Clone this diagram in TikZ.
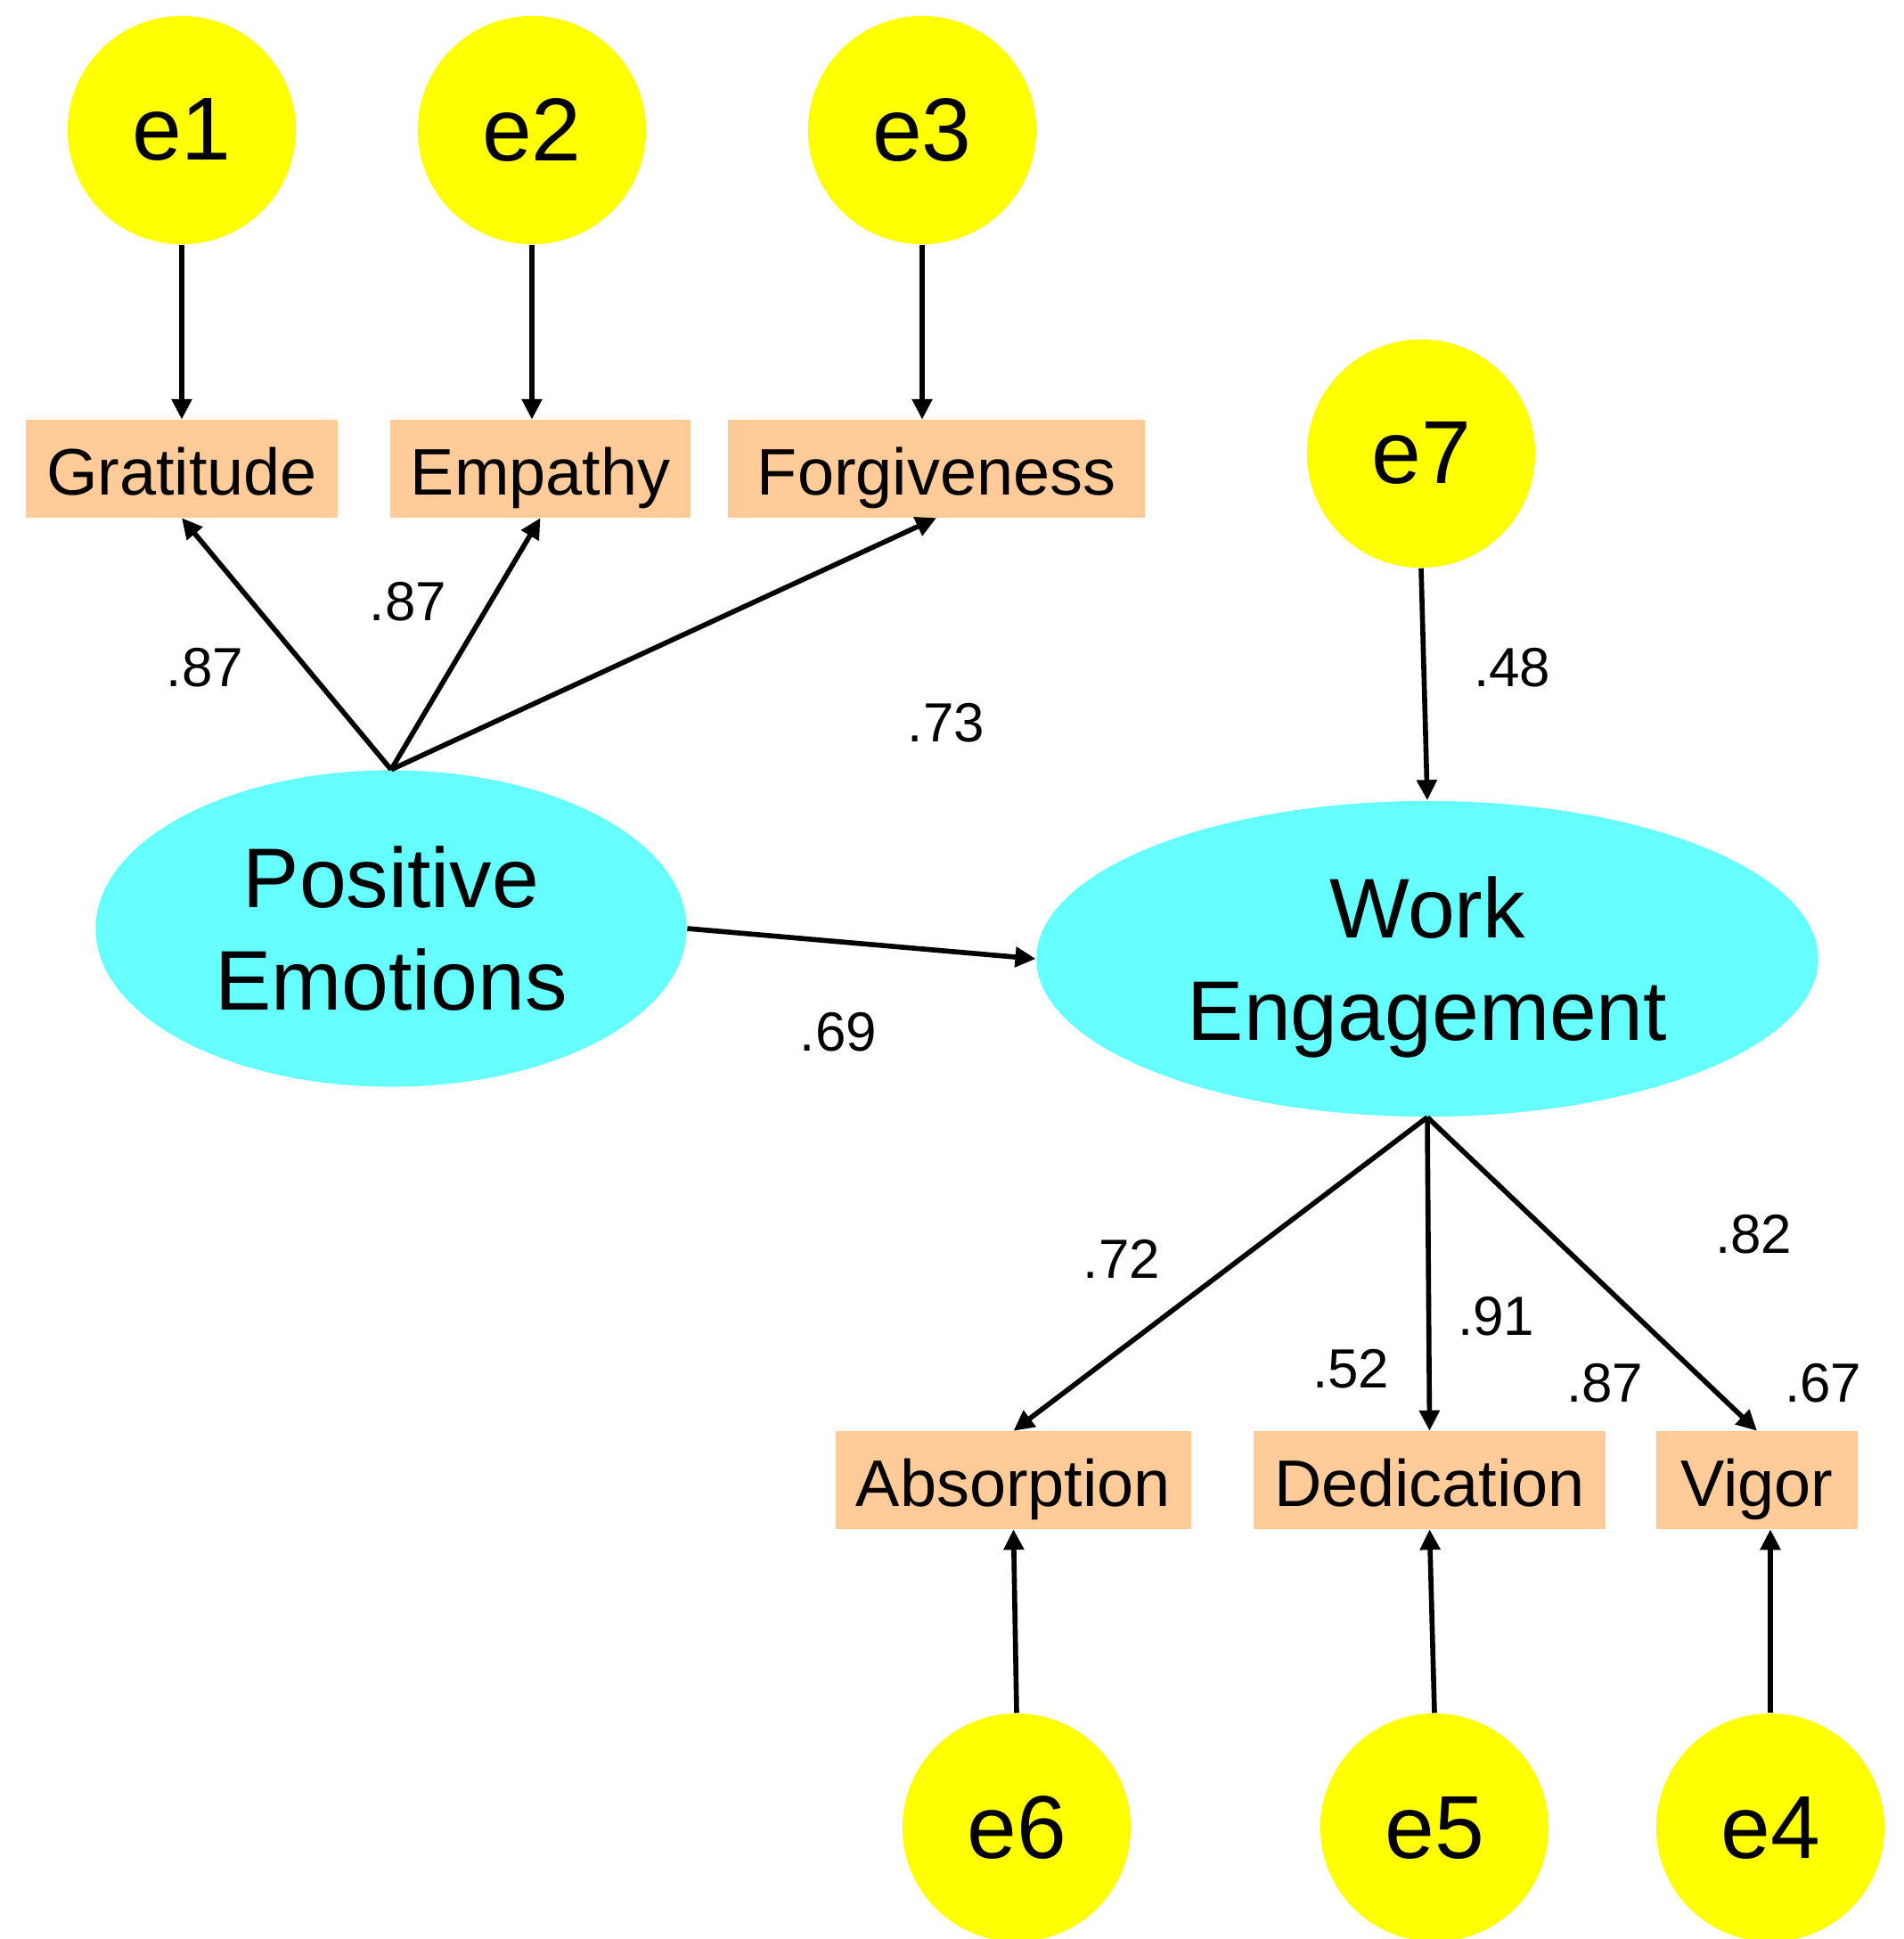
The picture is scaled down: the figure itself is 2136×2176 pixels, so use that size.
\documentclass[tikz,border=0pt]{standalone}
\usepackage{fontspec}
\setmainfont{Liberation Sans}
\usetikzlibrary{shapes.geometric,arrows.meta}
\definecolor{erryel}{HTML}{FFFF00}
\definecolor{latcyan}{HTML}{66FFFF}
\definecolor{obspeach}{HTML}{FFCC99}
\begin{document}
\begin{tikzpicture}[x=0.01cm,y=-0.01cm,
  errc/.style={circle,fill=erryel,draw=none,minimum size=2.56cm,inner sep=0pt,font=\fontsize{28.5}{32}\selectfont},
  latent/.style={ellipse,fill=latcyan,draw=none,inner sep=0pt,align=center,font=\fontsize{27}{32.7}\selectfont},
  obsbox/.style={rectangle,fill=obspeach,draw=none,minimum height=1.09cm,inner sep=0pt,text height=19pt,text depth=2.5pt,font=\fontsize{21}{24}\selectfont},
  lbl/.style={inner sep=0pt,font=\fontsize{17.6}{20}\selectfont},
  arr/.style={draw=black,line width=1.6pt,-{Triangle[length=0.23cm,width=0.22cm]}}]
\useasboundingbox (0,0) rectangle (2136,2176);
% error circles
\node[errc] (e1) at (204,146) {e1};
\node[errc] (e2) at (597,146) {e2};
\node[errc] (e3) at (1035,146) {e3};
\node[errc] (e7) at (1595,509) {e7};
\node[errc] (e6) at (1141,2051) {e6};
\node[errc] (e5) at (1610,2051) {e5};
\node[errc] (e4) at (1987,2051) {e4};
% observed boxes
\node[obsbox,minimum width=3.50cm] (grat) at (204,526) {Gratitude};
\node[obsbox,minimum width=3.36cm] (emp) at (606.5,526) {Empathy};
\node[obsbox,minimum width=4.68cm] (forg) at (1051,526) {Forgiveness};
\node[obsbox,minimum width=3.98cm] (abs) at (1137.5,1661) {Absorption};
\node[obsbox,minimum width=3.94cm] (ded) at (1604.5,1661) {Dedication};
\node[obsbox,minimum width=2.25cm] (vig) at (1972,1661) {Vigor};
% latent ellipses
\node[latent,minimum width=6.63cm,minimum height=3.55cm] (pe) at (439,1042) {Positive\\Emotions};
\node[latent,minimum width=8.77cm,minimum height=3.54cm] (we) at (1602,1076) {Work\\\raisebox{0pt}[\height][0pt]{Engagement}};
% arrows
\draw[arr] (e1.south) -- (grat.north);
\draw[arr] (e2.south) -- (emp.north -| e2.south);
\draw[arr] (e3.south) -- (forg.north -| e3.south);
\draw[arr] (pe.north) -- (grat.south);
\draw[arr] (pe.north) -- (emp.south);
\draw[arr] (pe.north) -- (forg.south);
\draw[arr] (e7.south) -- (we.north);
\draw[arr] (pe.east) -- (we.west);
\draw[arr] (we.south) -- (abs.north);
\draw[arr] (we.south) -- (ded.north);
\draw[arr] (we.south) -- (vig.north);
\draw[arr] (e6.north) -- (abs.south);
\draw[arr] (e5.north) -- (ded.south);
\draw[arr] (e4.north) -- (vig.south -| e4.north);
% labels
\node[lbl] (l1) at (230,749) {.87};
\node[lbl] (l2) at (458,675) {.87};
\node[lbl] (l3) at (1062,811) {.73};
\node[lbl] (l4) at (1697,749) {.48};
\node[lbl] (l5) at (941,1158) {.69};
\node[lbl] (l6) at (1259,1413) {.72};
\node[lbl] (l7) at (1968,1385) {.82};
\node[lbl] (l8) at (1679,1477) {.91};
\node[lbl] (l9) at (1516,1536) {.52};
\node[lbl] (l10) at (1801,1552) {.87};
\node[lbl] (l11) at (2046,1552) {.67};
\end{tikzpicture}
\end{document}
